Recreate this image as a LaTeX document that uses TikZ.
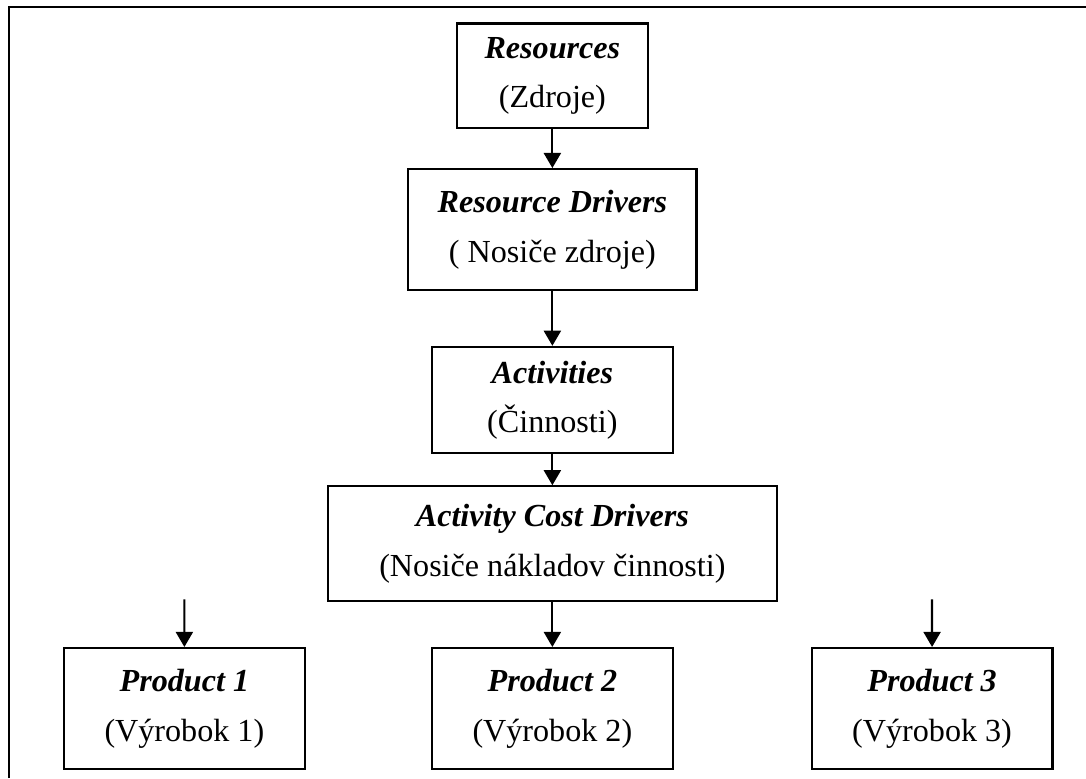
\documentclass[tikz,border=0pt]{standalone}
\usepackage{fontspec}
\setmainfont{Liberation Serif}
\usetikzlibrary{arrows.meta}
\tikzstyle{abcbox} = [rectangle, 
draw=black, 
line width=0.8pt, 
align=center, 
inner sep=0pt, 
font=\fontsize{11.7}{18}\selectfont, 
fill=white]
\tikzstyle{arrow} = [line width=0.8pt,->,>={Triangle[length=5.5pt,width=6.2pt]}]

\begin{document}
\begin{tikzpicture}
    \useasboundingbox (0,0) rectangle (13.9,-9.96);

    % Frame, cut off at the right and at the bottom
    \coordinate (frameBot) at (0.115,-9.96);
    \coordinate (frameCorner) at (0.115,-0.09);
    \coordinate (frameRight) at (13.9,-0.09);
    \draw[line width=0.8pt] (frameBot) -- (frameCorner) -- (frameRight);

    \node (res) [abcbox, xshift=7.07cm, yshift=-0.97cm, minimum width=2.44cm, minimum height=1.34cm] {\textbf{\textit{Resources}}\\(Zdroje)};
    \node (resdrv) [abcbox, xshift=7.07cm, yshift=-2.94cm, minimum width=3.69cm, minimum height=1.55cm] {\textbf{\textit{Resource Drivers}}\\( Nosiče zdroje)};
    \node (act) [abcbox, xshift=7.07cm, yshift=-5.12cm, minimum width=3.08cm, minimum height=1.36cm] {\textbf{\textit{Activities}}\\(Činnosti)};
    \node (acd) [abcbox, xshift=7.07cm, yshift=-6.96cm, minimum width=5.75cm, minimum height=1.47cm] {\textbf{\textit{Activity Cost Drivers}}\\(Nosiče nákladov činnosti)};

    \node (p1) [abcbox, xshift=2.36cm, yshift=-9.07cm, minimum width=3.08cm, minimum height=1.55cm] {\textbf{\textit{Product 1}}\\(Výrobok 1)};
    \node (p2) [abcbox, xshift=7.07cm, yshift=-9.07cm, minimum width=3.08cm, minimum height=1.55cm] {\textbf{\textit{Product 2}}\\(Výrobok 2)};
    \node (p3) [abcbox, xshift=11.93cm, yshift=-9.07cm, minimum width=3.08cm, minimum height=1.55cm] {\textbf{\textit{Product 3}}\\(Výrobok 3)};

    % Chain down the middle
    \draw [arrow] (res) -- (resdrv);
    \draw [arrow] (resdrv) -- (act);
    \draw [arrow] (act) -- (acd);
    \draw [arrow] (acd) -- (p2);

    % Loose arrows into the outer products
    \coordinate (in1) at (2.36,-7.67);
    \coordinate (in3) at (11.93,-7.67);
    \draw [arrow] (in1) -- (p1);
    \draw [arrow] (in3) -- (p3);
\end{tikzpicture}
\end{document}
